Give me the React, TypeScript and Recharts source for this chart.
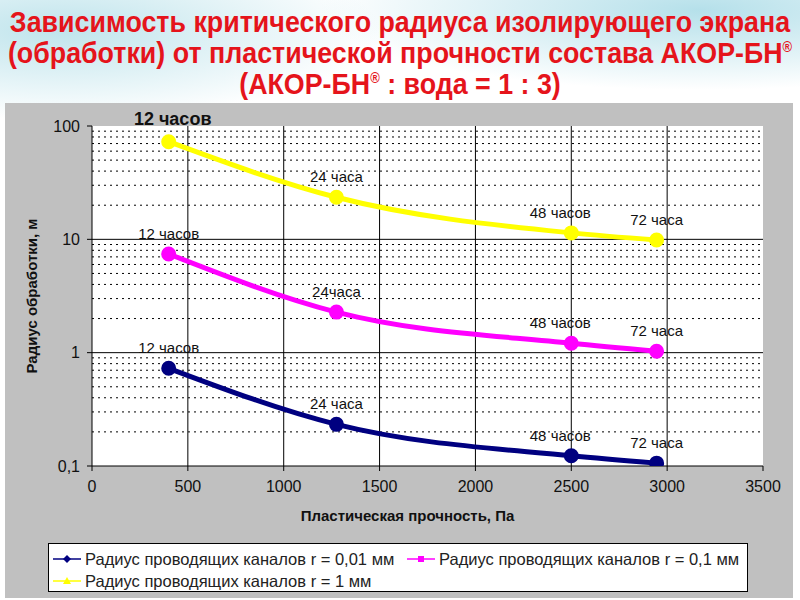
import {
  LineChart,
  Line,
  XAxis,
  YAxis,
  CartesianGrid,
  ReferenceLine,
  LabelList,
} from "recharts";

// plastic strength, Pa
const plasticStrength = [400, 1275, 2500, 2945];
// treatment radius, m, per channel radius
const radius001 = [0.728, 0.233, 0.123, 0.106];
const radius01 = [7.43, 2.28, 1.21, 1.03];
const radius1 = [72.7, 23.5, 11.4, 9.86];
const hoursLabels = ["12 часов", "24 часа", "48 часов", "72 часа"];
const hoursLabels01 = ["12 часов", "24часа", "48 часов", "72 часа"];

const xTicks = [0, 500, 1000, 1500, 2000, 2500, 3000, 3500];
const yTicks = [0.1, 1, 10, 100];
const majorX = [500, 1000, 1500, 2000, 2500, 3000];
const majorY = [1, 10];
const minorY = [
  0.2, 0.3, 0.4, 0.5, 0.6, 0.7, 0.8, 0.9,
  2, 3, 4, 5, 6, 7, 8, 9,
  20, 30, 40, 50, 60, 70, 80, 90,
];

const seriesNames = [
  "Радиус проводящих каналов r = 0,01 мм",
  "Радиус проводящих каналов r = 0,1 мм",
  "Радиус проводящих каналов r = 1 мм",
];

const NAVY = "#000080";
const MAGENTA = "#ff00ff";
const YELLOW = "#ffff00";
const FONT = "'Liberation Sans', Arial, sans-serif";

const data = plasticStrength.map((x, i) => ({
  x,
  r001: radius001[i],
  r01: radius01[i],
  r1: radius1[i],
  l001: hoursLabels[i],
  l01: hoursLabels01[i],
  l1: hoursLabels[i],
}));

const makeLabel = (boldFirst: boolean) => (props: any) => {
  const x = props.x ?? props.viewBox?.x;
  const y = props.y ?? props.viewBox?.y;
  const value = String(props.value);
  const big = boldFirst && props.index === 0;
  const shift = value.startsWith("48") ? -11 : big ? 4 : 0;
  return (
    <text
      x={x + shift}
      y={y - (big ? 17 : 15)}
      textAnchor="middle"
      fontSize={big ? 18 : 15}
      fontWeight={big ? 700 : 400}
      fontFamily={FONT}
      fill="#111"
    >
      {value}
    </text>
  );
};

const LegendIcon = ({ color, shape }: { color: string; shape: string }) => (
  <svg width={28} height={12} style={{ marginRight: 4, flex: "none" }}>
    <line x1={0} y1={6} x2={28} y2={6} stroke={color} strokeWidth={1.5} />
    {shape === "diamond" && <polygon points="14,2 18,6 14,10 10,6" fill={color} />}
    {shape === "square" && <rect x={11} y={3} width={6} height={6} fill={color} />}
    {shape === "triangle" && <polygon points="14,2 18,9 10,9" fill={color} />}
  </svg>
);

const Title = () => (
  <svg width={800} height={103} style={{ position: "absolute", left: 0, top: 0 }}>
    <g fill="#e5141b" fontFamily={FONT} fontWeight={700} fontSize={29} textAnchor="middle">
      <text transform="translate(400,32) scale(0.925,1)">
        Зависимость критического радиуса изолирующего экрана
      </text>
      <text transform="translate(400,63) scale(0.925,1)">
        (обработки) от пластической прочности состава АКОР-БН
        <tspan fontSize={14} dy={-11}>®</tspan>
      </text>
      <text transform="translate(400,94) scale(0.925,1)">
        (АКОР-БН<tspan fontSize={14} dy={-11}>®</tspan>
        <tspan dy={11}> : вода = 1 : 3)</tspan>
      </text>
    </g>
  </svg>
);

export default function App() {
  return (
    <div
      style={{
        position: "fixed",
        left: 0,
        top: 0,
        width: 800,
        height: 600,
        overflow: "hidden",
        fontFamily: FONT,
        background:
          "radial-gradient(ellipse 320px 90px at 60px 30px, #bfe4ec 0%, rgba(255,255,255,0) 100%), radial-gradient(ellipse 380px 80px at 700px 10px, #b5e0ea 0%, rgba(255,255,255,0) 100%), #ffffff",
      }}
    >
      <Title />
      <div
        style={{
          position: "absolute",
          left: 5,
          top: 103,
          width: 788,
          height: 495,
          background: "#c0c0c0",
        }}
      />
      <div style={{ position: "absolute", left: 0, top: 0 }}>
        <LineChart
          width={800}
          height={600}
          data={data}
          margin={{ top: 126, right: 37, bottom: 104, left: 42 }}
        >
          <CartesianGrid fill="#ffffff" horizontal={false} vertical={false} stroke="none" />
          {minorY.map((v) => (
            <ReferenceLine key={"m" + v} y={v} stroke="#000" strokeWidth={1} strokeDasharray="2 4" />
          ))}
          {majorY.map((v) => (
            <ReferenceLine key={"y" + v} y={v} stroke="#000" strokeWidth={1} />
          ))}
          {majorX.map((v) => (
            <ReferenceLine key={"x" + v} x={v} stroke="#000" strokeWidth={1} />
          ))}
          <XAxis
            type="number"
            dataKey="x"
            domain={[0, 3500]}
            ticks={xTicks}
            interval={0}
            height={30}
            tickSize={5}
            tickMargin={10}
            stroke="#000"
            tick={{ fill: "#111", fontSize: 16, fontFamily: FONT }}
            label={{
              content: (p: any) => {
                const vb = p.viewBox;
                return (
                  <text
                    x={vb.x + vb.width / 2 - 20}
                    y={521}
                    textAnchor="middle"
                    fontSize={15}
                    fontWeight={700}
                    fontFamily={FONT}
                    fill="#111"
                  >
                    Пластическая прочность, Па
                  </text>
                );
              },
            }}
          />
          <YAxis
            scale="log"
            domain={[0.1, 100]}
            ticks={yTicks}
            allowDataOverflow
            interval={0}
            width={50}
            tickSize={5}
            tickMargin={7}
            stroke="#000"
            tick={{ fill: "#111", fontSize: 16, fontFamily: FONT }}
            tickFormatter={(v: number) => String(v).replace(".", ",")}
            label={{
              content: (p: any) => {
                const vb = p.viewBox;
                const cy = vb.y + vb.height / 2;
                return (
                  <text
                    x={37}
                    y={cy}
                    transform={`rotate(-90 37 ${cy})`}
                    textAnchor="middle"
                    fontSize={15}
                    fontWeight={700}
                    fontFamily={FONT}
                    fill="#111"
                  >
                    Радиус обработки, м
                  </text>
                );
              },
            }}
          />
          <Line
            type="monotone"
            dataKey="r001"
            name={seriesNames[0]}
            stroke={NAVY}
            strokeWidth={5}
            dot={{ r: 5, fill: NAVY, stroke: NAVY }}
            isAnimationActive={false}
          >
            <LabelList dataKey="l001" content={makeLabel(false)} />
          </Line>
          <Line
            type="monotone"
            dataKey="r01"
            name={seriesNames[1]}
            stroke={MAGENTA}
            strokeWidth={5}
            dot={{ r: 5, fill: MAGENTA, stroke: MAGENTA }}
            isAnimationActive={false}
          >
            <LabelList dataKey="l01" content={makeLabel(false)} />
          </Line>
          <Line
            type="monotone"
            dataKey="r1"
            name={seriesNames[2]}
            stroke={YELLOW}
            strokeWidth={5}
            dot={{ r: 5, fill: YELLOW, stroke: YELLOW }}
            isAnimationActive={false}
          >
            <LabelList dataKey="l1" content={makeLabel(true)} />
          </Line>
        </LineChart>
      </div>
      <div
        style={{
          position: "absolute",
          left: 48,
          top: 543,
          width: 700,
          height: 49,
          boxSizing: "border-box",
          border: "1px solid #000",
          background: "#fff",
          fontSize: 16.5,
          color: "#222",
          padding: "4px 0 0 4px",
          lineHeight: "22px",
        }}
      >
        <div style={{ display: "flex", alignItems: "center", height: 22 }}>
          <LegendIcon color={NAVY} shape="diamond" />
          <span style={{ width: 322, whiteSpace: "nowrap" }}>{seriesNames[0]}</span>
          <LegendIcon color={MAGENTA} shape="square" />
          <span style={{ whiteSpace: "nowrap" }}>{seriesNames[1]}</span>
        </div>
        <div style={{ display: "flex", alignItems: "center", height: 22 }}>
          <LegendIcon color={YELLOW} shape="triangle" />
          <span style={{ whiteSpace: "nowrap" }}>{seriesNames[2]}</span>
        </div>
      </div>
    </div>
  );
}
